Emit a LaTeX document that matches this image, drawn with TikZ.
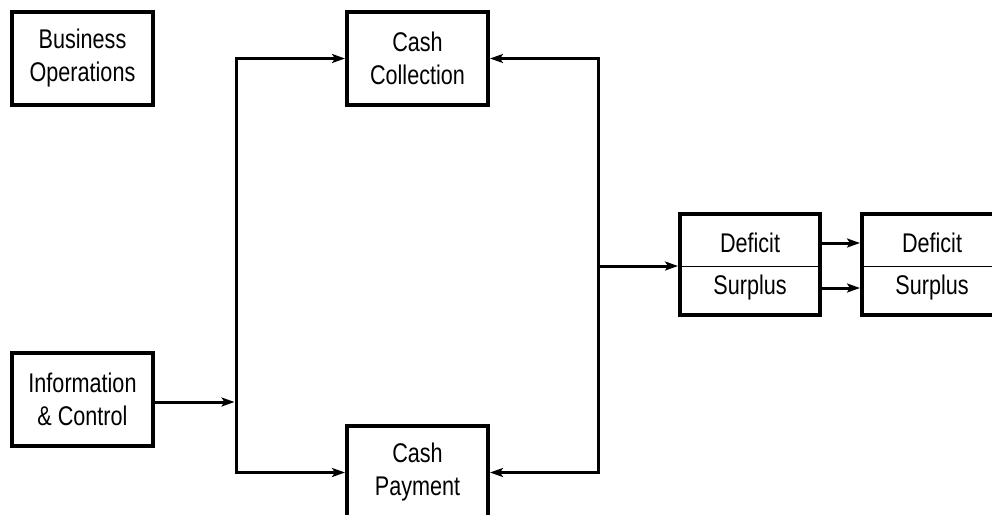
\documentclass[tikz,border=0pt]{standalone}
\usepackage{fontspec}
\setmainfont{Liberation Sans}[FakeStretch=0.8]
\usetikzlibrary{arrows.meta}
\begin{document}
\begin{tikzpicture}[x=1pt,y=-1pt,
  box/.style={draw,line width=4pt,minimum width=141pt,minimum height=93pt,inner sep=0pt,align=center,
    font=\fontsize{27}{33}\selectfont},
  lbl/.style={inner sep=0pt,font=\fontsize{27}{33}\selectfont},
  conn/.style={line width=3pt,line join=miter,-{Stealth[length=13pt,width=9pt,inset=3pt]}},
  conn2/.style={line width=3pt,line join=miter,{Stealth[length=13pt,width=9pt,inset=3pt]}-{Stealth[length=13pt,width=9pt,inset=3pt]}},
  divider/.style={line width=1pt}]
\useasboundingbox (0,0) rectangle (992,514);
\clip (0,0) rectangle (992,514);
\node[box] (bo) at (82.5,58.5) {Business\\Operations};
\node[box] (cc) at (417.5,58.5) {Cash\\Collection};
\node[box] (ic) at (82.5,399) {Information\\\& Control};
\node[box] (cp) at (417.5,472.5) {Cash\\Payment};
\node[box,minimum width=140pt,minimum height=101pt] (ds1) at (750,264.5) {};
\node[box,minimum width=140pt,minimum height=101pt] (ds2) at (932,264.5) {};
\draw[divider] (ds1.west |- 0,266) -- (ds1.east |- 0,266);
\draw[divider] (ds2.west |- 0,266) -- (ds2.east |- 0,266);
\node[lbl] (d1) at (750,243) {Deficit};
\node[lbl] (s1) at (750,288) {Surplus};
\node[lbl] (d2) at (932,243) {Deficit};
\node[lbl] (s2) at (932,288) {Surplus};
\coordinate (ltt) at (236,58.5);
\coordinate (ltb) at (236,472.5);
\coordinate (rtt) at (598,58.5);
\coordinate (rtb) at (598,472.5);
\coordinate (rm) at (598,266);
\coordinate (jl) at (234.5,402);
\draw[conn2] (cc.west) -- (ltt) -- (ltb) -- (cp.west);
\draw[conn2] (cc.east) -- (rtt) -- (rtb) -- (cp.east);
\draw[conn] (ic.east |- jl) -- (jl);
\draw[conn] (rm) -- (ds1.west |- rm);
\draw[conn] (ds1.east |- d1) -- (ds2.west |- d1);
\draw[conn] (ds1.east |- s1) -- (ds2.west |- s1);
\end{tikzpicture}
\end{document}
